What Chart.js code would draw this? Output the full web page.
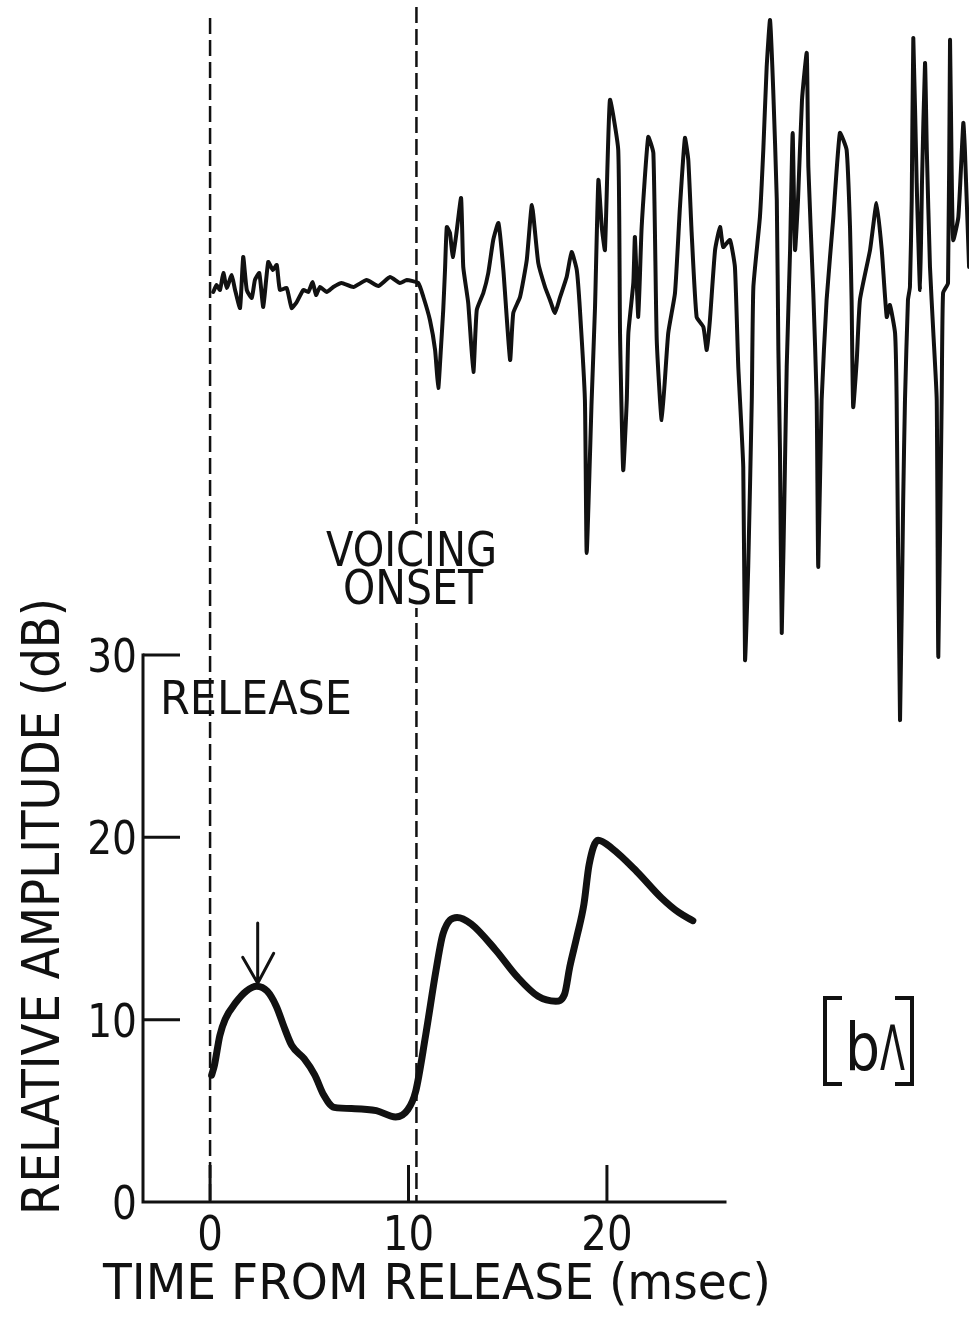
<!DOCTYPE html>
<html>
<head>
<meta charset="utf-8">
<script src="https://cdn.jsdelivr.net/npm/chart.js@4.4.1/dist/chart.umd.min.js"></script>
<style>
html,body{margin:0;padding:0;background:#fff}
canvas{display:block}
</style>
</head>
<body>
<canvas id="fig" width="969" height="1321"></canvas>
<script>
// relative amplitude (dB) against time from release (msec)
const T_DB=[0.08,0.22,0.49,0.76,1.29,1.82,2.35,2.88,3.33,3.77,4.12,4.74,5.28,5.72,6.25,7.31,8.38,9.35,9.97,10.36,
  10.86,11.39,11.74,12.45,13.16,14.40,15.47,16.53,17.42,17.86,18.13,18.48,18.84,19.10,19.55,20.26,21.50,22.74,23.62,24.33];
const DB=[6.96,7.50,9.12,10.02,10.93,11.56,11.83,11.56,10.75,9.48,8.58,7.86,6.96,5.88,5.19,5.12,5.01,4.66,5.07,6.06,
  9.12,12.73,14.71,15.61,15.25,13.81,12.36,11.28,11.01,11.38,12.91,14.53,16.33,18.49,19.84,19.39,18.13,16.69,15.88,15.43];

// speech waveform, same time axis, amplitude in arbitrary units (0 = resting trace)
const WAVE_T=[0.16,0.33,0.50,0.67,0.84,1.09,1.26,1.51,1.67,1.85,2.10,2.26,2.48,2.68,2.93,3.16,3.36,3.52,3.86,4.11,
  4.37,4.70,4.95,5.17,5.34,5.54,5.88,6.21,6.63,7.22,7.89,8.48,9.07,9.57,9.91,10.49,
  10.75,11.08,11.34,11.50,11.62,11.75,11.84,11.93,12.09,12.23,12.39,12.65,12.76,13.01,13.27,13.44,13.77,14.02,14.27,14.53,
  14.78,15.12,15.28,15.62,15.96,16.22,16.54,16.88,17.13,17.38,17.64,17.97,18.22,18.48,18.64,18.89,18.98,
  19.23,19.40,19.57,19.74,19.90,20.15,20.57,20.66,20.82,21.00,21.08,21.33,21.41,21.58,21.75,22.08,22.34,22.51,22.76,
  23.09,23.43,23.68,23.93,24.10,24.27,24.52,24.86,25.03,25.19,25.45,25.70,25.86,26.20,26.45,26.62,26.87,26.96,27.12,
  27.30,27.38,27.71,27.88,28.05,28.22,28.38,28.56,28.64,28.72,28.81,28.97,29.06,29.23,29.36,29.48,29.63,29.83,30.07,
  30.15,30.40,30.57,30.65,30.82,31.07,31.41,31.74,32.08,32.25,32.33,32.41,32.59,32.75,33.26,33.59,33.85,34.10,34.26,
  34.52,34.60,34.77,34.93,35.02,35.17,35.27,35.36,35.44,35.61,35.78,35.88,36.03,36.12,36.28,36.45,36.62,36.70,36.87,
  36.94,37.19,37.29,37.37,37.45,37.71,37.96,38.04,38.25];
const WAVE_A=[-0.04,0.03,-0.02,0.15,0.00,0.13,-0.02,-0.20,0.31,-0.02,-0.10,0.08,0.15,-0.19,0.26,0.18,0.23,-0.02,0.00,-0.20,
  -0.14,-0.02,-0.04,0.06,-0.07,0.01,-0.04,0.01,0.05,0.01,0.08,0.02,0.11,0.05,0.08,0.05,
  -0.09,-0.32,-0.62,-1.00,-0.65,-0.22,0.18,0.61,0.55,0.31,0.51,0.90,0.21,-0.15,-0.84,-0.22,-0.05,0.15,0.48,0.65,
  0.18,-0.72,-0.25,-0.09,0.28,0.83,0.25,0.01,-0.12,-0.25,-0.09,0.11,0.36,0.18,-0.22,-1.12,-2.65,
  -1.12,-0.19,1.08,0.61,0.38,1.88,1.38,-0.45,-1.82,-1.12,-0.45,0.05,0.51,-0.29,0.61,1.51,1.35,-0.52,-1.32,
  -0.45,-0.05,0.81,1.50,1.28,0.55,-0.29,-0.39,-0.62,-0.32,0.38,0.61,0.41,0.48,0.21,-0.79,-1.79,-3.72,-2.79,
  -1.12,0.01,0.71,1.38,2.21,2.68,1.98,0.88,-0.62,-1.62,-3.45,-1.79,-0.79,0.38,1.55,0.38,0.88,1.88,2.35,
  1.21,-0.05,-1.12,-2.79,-1.12,-0.12,0.71,1.55,1.38,0.61,-0.12,-1.19,-0.72,-0.12,0.38,0.85,0.38,-0.29,-0.17,
  -0.45,-1.12,-4.32,-2.12,-1.12,-0.12,0.01,0.88,2.50,1.05,-0.02,1.08,2.25,1.38,0.21,-0.45,-1.12,-3.69,-1.12,
  -0.05,0.05,2.48,1.21,0.48,0.71,1.65,1.38,0.21];

const X_TICKS=[0,10,20];
const Y_TICKS=[0,10,20,30];
const X_AXIS=[-3.38,25.95];
const Y_AXIS=[0,30];
const MARKERS=[0,10.4];          // release, voicing onset
const ARROW={t:2.4,from:15.3,to:12.0};
const WAVE_RANGE=[-10.33,2.88];

// where the drawn axes sit on the page
const W=969,H=1321,AX={l:143,r:725,t:655,b:1202};
const kx=(AX.r-AX.l)/(X_AXIS[1]-X_AXIS[0]);
const ky=(AX.b-AX.t)/(Y_AXIS[1]-Y_AXIS[0]);
const xMin=X_AXIS[0]-AX.l/kx,xMax=X_AXIS[1]+(W-AX.r)/kx;
const yMin=Y_AXIS[0]-(H-AX.b)/ky,yMax=Y_AXIS[1]+AX.t/ky;

const INK='#111';
const FONT='"DejaVu Sans"';

function txt(ctx,s,x,base,cap,w,align){
  ctx.font=(cap/0.729).toFixed(1)+'px '+FONT;
  const nat=ctx.measureText(s).width;
  const k=w?w/nat:0.84;
  const ww=nat*k;
  let left=x;
  if(align==='center')left=x-ww/2;else if(align==='right')left=x-ww;
  ctx.save();ctx.translate(left,base);ctx.scale(k,1);
  ctx.textAlign='left';ctx.textBaseline='alphabetic';ctx.fillText(s,0,0);ctx.restore();
}

const figure={
  id:'figure',
  beforeDatasetsDraw(chart){
    const {ctx,scales:{x,y}}=chart;
    const y0=y.getPixelForValue(0);
    ctx.save();
    ctx.strokeStyle=INK;
    // release / voicing onset markers
    const tops=[18,7];
    ctx.lineWidth=2.5;ctx.setLineDash([16,6]);
    MARKERS.forEach(function(m,i){
      const px=x.getPixelForValue(m);
      ctx.beginPath();ctx.moveTo(px,tops[i]);ctx.lineTo(px,y0);ctx.stroke();
    });
    ctx.setLineDash([]);
    // axes
    const xl=x.getPixelForValue(X_AXIS[0]),xr=x.getPixelForValue(X_AXIS[1]);
    ctx.lineWidth=3;ctx.lineCap='square';
    ctx.beginPath();ctx.moveTo(xl,y.getPixelForValue(Y_AXIS[1]));ctx.lineTo(xl,y0);ctx.lineTo(xr,y0);ctx.stroke();
    ctx.lineCap='butt';
    Y_TICKS.forEach(function(v){
      if(v===0)return;
      const py=y.getPixelForValue(v);
      ctx.beginPath();ctx.moveTo(xl,py);ctx.lineTo(xl+37,py);ctx.stroke();
    });
    X_TICKS.forEach(function(v){
      const px=x.getPixelForValue(v);
      ctx.beginPath();ctx.moveTo(px,y0);ctx.lineTo(px,y0-37);ctx.stroke();
    });
    ctx.restore();
  },
  afterDatasetsDraw(chart){
    const {ctx,scales:{x,y}}=chart;
    const y0=y.getPixelForValue(0);
    ctx.save();
    ctx.fillStyle=INK;ctx.strokeStyle=INK;
    // tick labels
    Y_TICKS.forEach(function(v){txt(ctx,String(v),137,y.getPixelForValue(v)+17,34,0,'right');});
    X_TICKS.forEach(function(v){txt(ctx,String(v),x.getPixelForValue(v),y0+48,35,0,'center');});
    // axis titles
    txt(ctx,'TIME FROM RELEASE (msec)',103,1299,36,668,'left');
    ctx.save();ctx.translate(59,1215);ctx.rotate(-Math.PI/2);
    txt(ctx,'RELATIVE AMPLITUDE (dB)',0,0,38,617,'left');
    ctx.restore();
    // annotations
    txt(ctx,'RELEASE',160,714,33,192,'left');
    ctx.fillStyle='#fff';ctx.fillRect(318,524,186,84);ctx.fillStyle=INK;
    txt(ctx,'VOICING',326,566,35,171,'left');
    txt(ctx,'ONSET',343,604,35,140,'left');
    // [bΛ] : thin square brackets round the syllable
    ctx.lineWidth=4;ctx.lineCap='butt';ctx.lineJoin='miter';
    ctx.beginPath();ctx.moveTo(842,998);ctx.lineTo(825,998);ctx.lineTo(825,1084);ctx.lineTo(842,1084);
    ctx.moveTo(895,998);ctx.lineTo(912,998);ctx.lineTo(912,1084);ctx.lineTo(895,1084);ctx.stroke();
    txt(ctx,'b',845,1070,48,0,'left');
    txt(ctx,'Λ',880,1070,46,25,'left');
    // arrow onto the first peak
    const ax=x.getPixelForValue(ARROW.t),a1=y.getPixelForValue(ARROW.from),a2=y.getPixelForValue(ARROW.to);
    ctx.lineWidth=3;ctx.lineCap='round';ctx.lineJoin='round';
    ctx.beginPath();ctx.moveTo(ax,a1);ctx.lineTo(ax,a2);
    ctx.moveTo(ax-15,a2-26);ctx.lineTo(ax,a2);ctx.lineTo(ax+16,a2-30);ctx.stroke();
    ctx.restore();
  }
};

new Chart(document.getElementById('fig'),{
  type:'line',
  data:{
    datasets:[
      {
        label:'waveform',
        data:WAVE_T.map(function(t,i){return{x:t,y:WAVE_A[i]};}),
        yAxisID:'yw',
        borderColor:INK,borderWidth:4,tension:0.15,
        borderJoinStyle:'round',borderCapStyle:'round',
        pointRadius:0,clip:false
      },
      {
        label:'relative amplitude',
        data:T_DB.map(function(t,i){return{x:t,y:DB[i]};}),
        yAxisID:'y',
        borderColor:INK,borderWidth:7,
        cubicInterpolationMode:'monotone',
        borderJoinStyle:'round',borderCapStyle:'round',
        pointRadius:0,clip:false
      }
    ]
  },
  options:{
    responsive:false,animation:false,devicePixelRatio:1,events:[],
    layout:{padding:0},
    plugins:{legend:{display:false},tooltip:{enabled:false},title:{display:false}},
    scales:{
      x:{type:'linear',min:xMin,max:xMax,display:false},
      y:{type:'linear',min:yMin,max:yMax,display:false},
      yw:{type:'linear',min:WAVE_RANGE[0],max:WAVE_RANGE[1],display:false}
    }
  },
  plugins:[figure]
});
</script>
</body>
</html>
